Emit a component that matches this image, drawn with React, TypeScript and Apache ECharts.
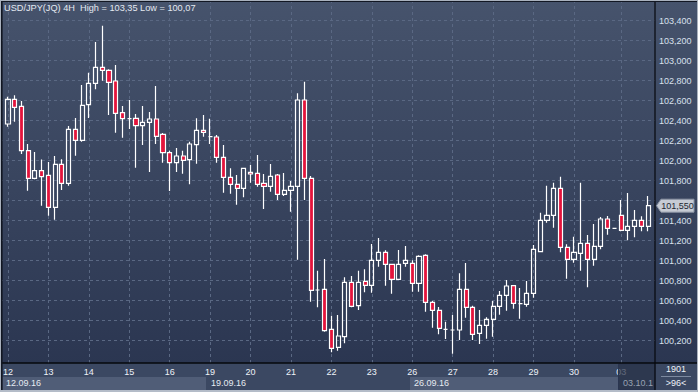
import React, { useEffect, useRef } from 'react';
import * as echarts from 'echarts';

const dayLabels = ['12', '13', '14', '15', '16', '19', '20', '21', '22', '23', '26', '27', '28', '29', '30', '03'];
const barsPerDay = [6, 6, 6, 6, 6, 6, 6, 6, 6, 6, 6, 6, 6, 6, 7, 5];
const weekLabels = ['12.09.16', '19.09.16', '26.09.16', '03.10.1'];
const yTickMin = 100.0;
const yTickMax = 103.6;
const yTickStep = 0.2;

const opens = [
  102.367, 102.614, 102.544, 102.10, 101.824, 101.90, 101.854, 101.534, 101.964, 101.774,
  102.314, 102.204, 102.56, 102.774, 102.934, 102.904, 102.797, 102.48, 102.42, 102.424,
  102.35, 102.384, 102.417, 102.264, 102.08, 101.98, 102.047, 102.01, 102.16, 102.304,
  102.24, 102.237, 102.034, 101.834, 101.764, 101.724, 101.884, 101.874, 101.774, 101.744,
  101.857, 101.664, 101.704, 101.744, 102.607, 101.824, 100.707, 100.714, 100.314, 100.134,
  100.24, 100.784, 100.55, 100.794, 100.754, 101.004, 101.084, 100.964, 100.814, 100.974,
  100.974, 100.774, 101.054, 100.584, 100.504, 100.314, 100.307, 100.307, 100.714, 100.534,
  100.274, 100.354, 100.414, 100.544, 100.654, 100.75, 100.57, 100.564, 100.674, 101.09,
  101.404, 101.454, 101.724, 101.134, 101.014, 101.074, 101.174, 101.014, 101.144, 101.417,
  101.324, 101.454, 101.304, 101.344, 101.404, 101.344,
];
const closes = [
  102.613, 102.534, 102.10, 101.824, 101.90, 101.84, 101.534, 101.964, 101.774, 102.314,
  102.204, 102.554, 102.774, 102.934, 102.904, 102.784, 102.474, 102.42, 102.42, 102.35,
  102.384, 102.417, 102.244, 102.08, 101.98, 102.047, 102.004, 102.167, 102.304, 102.284,
  102.24, 102.034, 101.834, 101.764, 101.724, 101.924, 101.867, 101.764, 101.744, 101.844,
  101.664, 101.704, 101.744, 102.607, 101.824, 100.704, 100.707, 100.30, 100.124, 100.247,
  100.784, 100.544, 100.784, 100.754, 101.004, 101.084, 100.964, 100.814, 100.964, 101.004,
  100.774, 101.044, 100.584, 100.504, 100.324, 100.314, 100.307, 100.714, 100.534, 100.264,
  100.354, 100.414, 100.544, 100.654, 100.747, 100.574, 100.57, 100.674, 101.114, 101.404,
  101.454, 101.724, 101.134, 101.014, 101.084, 101.174, 101.014, 101.144, 101.417, 101.324,
  101.324, 101.304, 101.344, 101.404, 101.344, 101.55,
];
const lows = [
  102.34, 102.39, 102.067, 101.70, 101.814, 101.55, 101.45, 101.41, 101.707, 101.75,
  102.05, 102.19, 102.427, 102.714, 102.80, 102.457, 102.28, 102.23, 102.317, 101.93,
  102.157, 101.887, 102.167, 101.98, 101.697, 101.887, 101.87, 101.764, 101.97, 102.24,
  102.167, 101.98, 101.68, 101.67, 101.56, 101.634, 101.78, 101.74, 101.517, 101.69,
  101.607, 101.647, 101.49, 101.01, 101.607, 100.59, 100.534, 100.29, 100.084, 100.10,
  100.174, 100.534, 100.507, 100.684, 100.68, 100.94, 100.75, 100.67, 100.81, 100.94,
  100.69, 100.69, 100.49, 100.33, 100.264, 100.217, 100.07, 100.207, 100.43, 100.207,
  100.167, 100.22, 100.24, 100.46, 100.50, 100.52, 100.42, 100.54, 100.63, 101.084,
  101.38, 101.33, 101.084, 100.82, 100.98, 100.90, 100.734, 100.95, 101.114, 101.26,
  101.324, 101.294, 101.204, 101.234, 101.294, 101.294,
];
const highs = [
  102.64, 102.654, 102.597, 102.167, 102.087, 102.013, 101.987, 102.047, 102.014, 102.347,
  102.427, 102.757, 102.88, 103.187, 103.35, 102.914, 102.957, 102.547, 102.607, 102.467,
  102.547, 102.487, 102.747, 102.277, 102.10, 102.127, 102.10, 102.19, 102.424, 102.457,
  102.42, 102.257, 102.157, 101.924, 101.857, 101.93, 101.957, 102.057, 101.867, 101.967,
  101.867, 101.877, 101.797, 102.674, 102.79, 101.847, 100.90, 101.017, 100.45, 100.457,
  100.834, 100.847, 100.90, 100.914, 101.167, 101.227, 101.104, 100.964, 101.107, 101.147,
  101.004, 101.054, 101.064, 100.597, 100.537, 100.39, 100.457, 100.874, 100.977, 100.55,
  100.507, 100.434, 100.597, 100.697, 100.807, 100.75, 100.727, 100.797, 101.157, 101.48,
  101.75, 101.78, 101.84, 101.164, 101.24, 101.78, 101.257, 101.367, 101.437, 101.447,
  101.324, 101.607, 101.677, 101.507, 101.444, 101.647,
];

const FONT = '"Liberation Sans", Arial, sans-serif';
const fmtPrice = (v: number) => v.toFixed(3).replace('.', ',');

export default function App() {
  const ref = useRef<HTMLDivElement>(null);
  useEffect(() => {
    const chart = echarts.init(ref.current!, null, { renderer: 'svg' });
    const categories: string[] = [];
    const dayStart: number[] = [];
    dayLabels.forEach((d, k) => {
      dayStart.push(categories.length);
      for (let h = 0; h < barsPerDay[k]; h++) categories.push(d + '-' + h);
    });
    const startSet = new Set(dayStart);
    const data = opens.map((o, i) => [o, closes[i], lows[i], highs[i]]);
    const last = closes[closes.length - 1];
    const step = 6.795;
    const left = 2.53 - step / 2;
    const gridColor = '#5a6883';

    const txt = (id: string, text: string, x: number, y: number, fill: string, align = 'left', size = 9) => ({
      type: 'text', id, x, y, z: 120, silent: true,
      style: { text, fill, fontSize: size, fontFamily: FONT, textAlign: align, textVerticalAlign: 'middle' },
    });

    chart.setOption({
      animation: false,
      backgroundColor: new echarts.graphic.LinearGradient(0, 0, 0, 1, [
        { offset: 0, color: '#46536c' },
        { offset: 1, color: '#29344f' },
      ]),
      grid: [
        { left, top: 0, width: categories.length * step, height: 363 },
        { left, top: 0.7, width: 655 - left, height: 360 },
      ],
      xAxis: [
        {
          type: 'category', gridIndex: 0, data: categories, boundaryGap: true, z: 110,
          axisLine: { show: false }, axisTick: { show: false }, splitLine: { show: false },
          axisLabel: {
            interval: (i: number) => startSet.has(i),
            formatter: (v: string) => v.split('-')[0],
            alignMinLabel: 'center',
            color: '#eef2f8', fontSize: 9, fontFamily: FONT, margin: 4,
          },
        },
        { type: 'value', gridIndex: 1, show: false, min: 0, max: 1 },
      ],
      yAxis: [
        { type: 'value', gridIndex: 0, show: false, min: 103.607 - 3.63, max: 103.607, splitLine: { show: false } },
        {
          type: 'value', gridIndex: 1, position: 'right', min: yTickMin, max: yTickMax, interval: yTickStep,
          axisLine: { show: false }, axisTick: { show: false },
          axisLabel: {
            color: '#d9e1ee', fontSize: 9, fontFamily: FONT, margin: 4,
            showMinLabel: false, showMaxLabel: false,
            formatter: (v: number) => (Math.abs(v - last) < 0.1 ? '' : fmtPrice(v)),
          },
          splitLine: { show: true, showMinLine: false, showMaxLine: false, lineStyle: { color: gridColor, type: [3, 3], width: 1 } },
        },
      ],
      series: [
        {
          type: 'line', xAxisIndex: 0, yAxisIndex: 0, data: [], z: 1, silent: true, symbol: 'none',
          markLine: {
            silent: true, symbol: ['none', 'none'], label: { show: false }, animation: false,
            lineStyle: { color: gridColor, type: [3, 3], width: 1 },
            emphasis: { disabled: true },
            data: dayStart.map((i) => ({ xAxis: categories[i] })),
          },
        },
        {
          type: 'candlestick', xAxisIndex: 0, yAxisIndex: 0, data, barWidth: 4.6, z: 5,
          itemStyle: {
            color: 'rgba(0,0,0,0)', color0: '#e4143c',
            borderColor: '#ffffff', borderColor0: '#ffffff', borderColorDoji: '#ffffff', borderWidth: 1.2,
          },
        },
      ],
      graphic: { elements: [
        { type: 'rect', id: 'bp', z: 100, silent: true, shape: { x: 0, y: 363, width: 698, height: 29 }, style: { fill: '#3b4862' } },
        { type: 'rect', id: 'wb1', z: 101, silent: true, shape: { x: 2.5, y: 377, width: 203.5, height: 13 }, style: { fill: '#505d77' } },
        { type: 'rect', id: 'wb3', z: 101, silent: true, shape: { x: 410, y: 377, width: 208, height: 13 }, style: { fill: '#505d77' } },
        txt('w1', weekLabels[0], 6, 383, '#e6ebf2'),
        txt('w2', weekLabels[1], 211, 383, '#e6ebf2'),
        txt('w3', weekLabels[2], 414, 383, '#e6ebf2'),
        { type: 'rect', id: 'wb4', z: 125, silent: true, shape: { x: 618.5, y: 364, width: 36.5, height: 25.5 }, style: { fill: 'rgba(40,50,72,0.72)', stroke: '#2a3550', lineWidth: 1 } },
        { ...txt('w4', weekLabels[3], 623, 383, '#98a2b3'), z: 126 },
        { type: 'line', id: 'hx', z: 130, silent: true, shape: { x1: 0, y1: 363, x2: 698, y2: 363 }, style: { stroke: '#06080d', lineWidth: 1.5 } },
        { type: 'line', id: 'vx', z: 130, silent: true, shape: { x1: 655, y1: 0, x2: 655, y2: 392 }, style: { stroke: '#06080d', lineWidth: 1.2 } },
        txt('c1', '1901', 676, 369, '#eef2f8', 'center'),
        { type: 'line', id: 'cl', z: 120, silent: true, shape: { x1: 661, y1: 376.5, x2: 691, y2: 376.5 }, style: { stroke: '#7d8aa0', lineWidth: 1 } },
        txt('c2', '>96<', 676, 383, '#eef2f8', 'center'),
        txt('title', 'USD/JPY(JQ) 4H  High = 103,35 Low = 100,07', 4, 8, '#e4e9f1', 'left', 9.2),
        { type: 'rect', id: 'fl', z: 140, silent: true, shape: { x: 0, y: 0, width: 1, height: 392 }, style: { fill: '#a9b1bd' } },
        { type: 'rect', id: 'fl2', z: 140, silent: true, shape: { x: 1, y: 1, width: 1.6, height: 390 }, style: { fill: '#121723' } },
        { type: 'rect', id: 'ft', z: 140, silent: true, shape: { x: 0, y: 0, width: 698, height: 1 }, style: { fill: '#a9b1bd' } },
        { type: 'rect', id: 'ft2', z: 140, silent: true, shape: { x: 1, y: 1, width: 696, height: 1 }, style: { fill: '#121723' } },
        { type: 'rect', id: 'fb', z: 140, silent: true, shape: { x: 0, y: 390, width: 698, height: 2 }, style: { fill: '#b4bcc8' } },
        { type: 'rect', id: 'fr', z: 140, silent: true, shape: { x: 697, y: 0, width: 1, height: 392 }, style: { fill: '#a9b1bd' } },
      ] },
    });

    const py = chart.convertToPixel({ yAxisIndex: 0 }, last) as number;
    chart.setOption({
      graphic: { elements: [
        {
          type: 'polygon', id: 'tag', z: 150, silent: true,
          shape: { points: [[656.5, py], [661, py - 6.5], [694, py - 6.5], [694, py + 6.5], [661, py + 6.5]] },
          style: { fill: '#c6cbd4', stroke: '#8a93a3', lineWidth: 1 },
        },
        { ...txt('tagt', fmtPrice(last), 677.5, py, '#222831', 'center'), z: 151 },
      ] },
    });
    return () => chart.dispose();
  }, []);
  return <div ref={ref} style={{ position: 'fixed', left: 0, top: 0, width: 698, height: 392 }} />;
}
